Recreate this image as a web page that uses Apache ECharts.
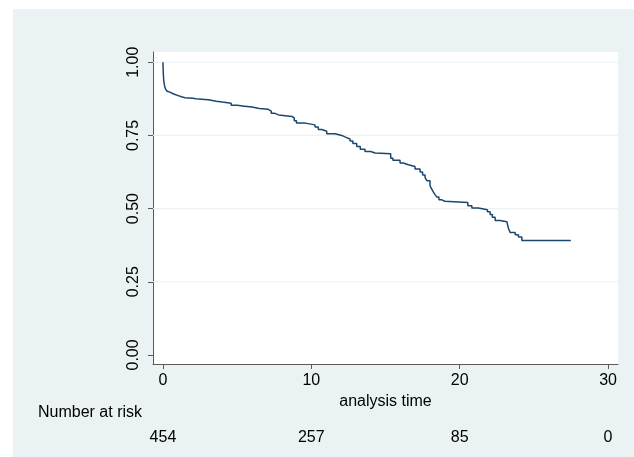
<!DOCTYPE html>
<html>
<head>
<meta charset="utf-8">
<script src="https://cdn.jsdelivr.net/npm/echarts@6/dist/echarts.min.js"></script>
<style>
  html, body { margin: 0; padding: 0; background: #ffffff; width: 634px; height: 457px; overflow: hidden; }
  #chart { position: absolute; left: 13px; top: 9px; width: 621px; height: 448px; }
</style>
</head>
<body>
<div id="chart"></div>
<script>
// Kaplan-Meier survival estimate: [analysis time, survival]
const kmTimes = [0, 0.02, 0.04, 0.06, 0.09, 0.12, 0.16, 0.21, 0.28, 0.36, 0.47, 0.62, 0.81, 1.03, 1.25, 1.48, 2.0, 2.4, 3.05, 3.6, 4.0, 4.6, 5.0, 5.5, 6.0, 6.5, 7.1, 7.3, 7.5, 7.8, 8.7, 8.85, 9.0, 9.6, 10.25, 10.47, 10.7, 11.04, 11.6, 12.05, 12.3, 12.61, 12.8, 13.06, 13.3, 13.62, 14.0, 14.3, 15.35, 15.5, 15.98, 16.2, 16.54, 16.99, 17.33, 17.5, 17.67, 17.8, 18.0, 18.1, 18.23, 18.35, 18.45, 18.6, 18.8, 19.0, 20.55, 20.82, 21.26, 21.87, 22.05, 22.2, 22.39, 22.72, 23.18, 23.28, 23.40, 23.74, 23.96, 24.19, 27.49];
const kmSurv  = [1.000, 0.965, 0.948, 0.935, 0.925, 0.917, 0.910, 0.905, 0.901, 0.898, 0.894, 0.890, 0.886, 0.882, 0.879, 0.877, 0.874, 0.872, 0.867, 0.864, 0.860, 0.853, 0.850, 0.847, 0.842, 0.839, 0.833, 0.826, 0.820, 0.815, 0.810, 0.800, 0.792, 0.786, 0.779, 0.770, 0.764, 0.756, 0.750, 0.744, 0.738, 0.731, 0.722, 0.712, 0.703, 0.695, 0.690, 0.687, 0.672, 0.665, 0.656, 0.650, 0.644, 0.635, 0.625, 0.615, 0.605, 0.595, 0.578, 0.568, 0.556, 0.547, 0.540, 0.530, 0.525, 0.521, 0.510, 0.502, 0.496, 0.489, 0.480, 0.470, 0.459, 0.455, 0.450, 0.433, 0.418, 0.411, 0.403, 0.391, 0.391];

const xTicks = [0, 10, 20, 30];
const yTicks = [0, 0.25, 0.5, 0.75, 1.0];
const yTickLabels = ['0.00', '0.25', '0.50', '0.75', '1.00'];
const riskTimes = [0, 10, 20, 30];
const riskCounts = [454, 257, 85, 0];

const xMin = -0.67, xMax = 30.67;
const yMin = -0.031, yMax = 1.035;

const FONT = 'Liberation Sans, Arial, sans-serif';
const FS = 16;
const AXIS_COLOR = '#5a5a5a';
const GRID_COLOR = '#eaf2f3';
const LINE_COLOR = '#1a476f';

const chart = echarts.init(document.getElementById('chart'), null, { renderer: 'canvas' });

const gridSeries = yTicks.filter(v => v > 0).map(v => ({
  type: 'line',
  xAxisIndex: 0, yAxisIndex: 0,
  data: [[xMin, v], [xMax, v]],
  showSymbol: false,
  silent: true,
  z: 1,
  lineStyle: { color: GRID_COLOR, width: 1.2 },
  animation: false
}));

const option = {
  backgroundColor: '#eaf2f3',
  animation: false,
  textStyle: { fontFamily: FONT },
  graphic: [{
    type: 'text',
    left: 25, top: 396,
    style: { text: 'Number at risk', font: FS + 'px ' + FONT, fill: '#000' }
  }],
  grid: {
    left: 140, top: 43, right: 16, bottom: 93,
    show: true, backgroundColor: '#ffffff', borderWidth: 0
  },
  xAxis: [{
    type: 'value', min: xMin, max: xMax,
    name: 'analysis time', nameLocation: 'middle', nameGap: 25,
    nameTextStyle: { fontSize: FS, color: '#000', fontFamily: FONT },
    axisLine: { show: true, onZero: false, lineStyle: { color: AXIS_COLOR, width: 1 } },
    axisTick: { show: true, length: 5, customValues: xTicks, lineStyle: { color: AXIS_COLOR } },
    axisLabel: { customValues: xTicks, fontSize: FS, color: '#000', margin: 9, fontFamily: FONT },
    splitLine: { show: false }
  }, {
    type: 'value', min: xMin, max: xMax, position: 'bottom', offset: 60,
    axisLine: { show: false }, axisTick: { show: false }, splitLine: { show: false },
    axisLabel: {
      customValues: riskTimes, fontSize: FS, color: '#000', margin: 6, fontFamily: FONT,
      formatter: v => { const i = riskTimes.indexOf(v); return i >= 0 ? String(riskCounts[i]) : ''; }
    }
  }],
  yAxis: {
    type: 'value', min: yMin, max: yMax,
    axisLine: { show: true, onZero: false, lineStyle: { color: AXIS_COLOR, width: 1 } },
    axisTick: { show: true, length: 5, customValues: yTicks, lineStyle: { color: AXIS_COLOR } },
    axisLabel: {
      customValues: yTicks, rotate: 90, fontSize: FS, color: '#000', margin: 11, fontFamily: FONT,
      formatter: v => { const i = yTicks.indexOf(v); return i >= 0 ? yTickLabels[i] : ''; }
    },
    splitLine: { show: false }
  },
  series: gridSeries.concat([{
    type: 'line',
    xAxisIndex: 0, yAxisIndex: 0,
    step: 'end',
    data: kmTimes.map((t, i) => [t, kmSurv[i]]),
    showSymbol: false,
    z: 5,
    lineStyle: { color: LINE_COLOR, width: 1.5 }
  }])
};
chart.setOption(option);
</script>
</body>
</html>
